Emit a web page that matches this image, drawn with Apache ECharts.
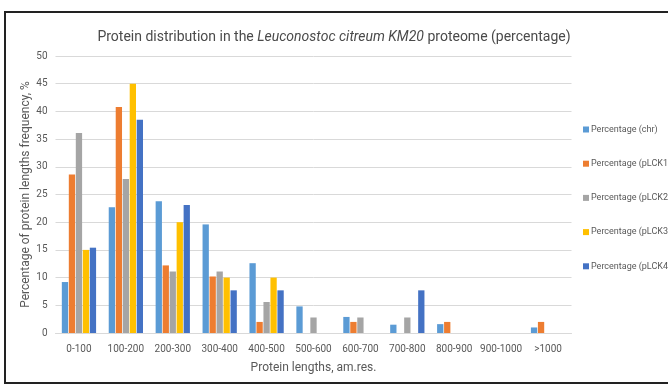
<!DOCTYPE html>
<html><head><meta charset="utf-8">
<script src="https://cdn.jsdelivr.net/npm/echarts@6/dist/echarts.min.js"></script>
<style>html,body{margin:0;padding:0;background:#fff}#c{width:668px;height:386px}</style>
</head><body><div id="c"></div>
<script>
const categories = ['0-100','100-200','200-300','300-400','400-500','500-600','600-700','700-800','800-900','900-1000','>1000'];
const seriesNames = ['Percentage (chr)','Percentage (pLCK1)','Percentage (pLCK2)','Percentage (pLCK3)','Percentage (pLCK4)'];
const chr   = [9.2, 22.7, 23.8, 19.6, 12.6, 4.8, 2.9, 1.5, 1.6, 0, 1.0];
const pLCK1 = [28.6, 40.8, 12.2, 10.2, 2.0, 0, 2.0, 0, 2.0, 0, 2.0];
const pLCK2 = [36.1, 27.8, 11.1, 11.1, 5.6, 2.8, 2.8, 2.8, 0, 0, 0];
const pLCK3 = [15, 45, 20, 10, 10, 0, 0, 0, 0, 0, 0];
const pLCK4 = [15.4, 38.5, 23.1, 7.7, 7.7, 0, 0, 7.7, 0, 0, 0];
const colors = ['#5B9BD5','#ED7D31','#A5A5A5','#FFC000','#4472C4'];
const allData = [chr, pLCK1, pLCK2, pLCK3, pLCK4];

const font = 'Roboto, "Noto Sans", sans-serif';
const chart = echarts.init(document.getElementById('c'), null, {renderer:'canvas'});
chart.setOption({
  animation:false,
  backgroundColor:'#fff',
  color: colors,
  title:{
    text:'{n|Protein distribution in the }{i|Leuconostoc citreum KM20}{n| proteome (percentage)}',
    left:'center', top:25,
    textStyle:{
      rich:{
        n:{fontFamily:font, fontSize:14, color:'#4a4a4a', fontWeight:'normal'},
        i:{fontFamily:font, fontSize:14, color:'#4a4a4a', fontStyle:'italic', fontWeight:'normal'}
      }
    }
  },
  graphic:[{type:'rect', shape:{x:5,y:12,width:700,height:371}, style:{fill:'none', stroke:'#222', lineWidth:2}, z:100}],
  legend:{
    orient:'vertical', left:578, top:120, itemGap:25.2, itemWidth:6, itemHeight:6, icon:'rect',
    textStyle:{fontFamily:font, fontSize:9, color:'#595959', padding:[0,0,0,-3]},
    data: seriesNames
  },
  grid:{left:55.5, right:96.5, top:56, bottom:53},
  xAxis:{
    type:'category', data:categories,
    axisLine:{lineStyle:{color:'#D9D9D9'}}, axisTick:{show:false},
    axisLabel:{fontFamily:font, fontSize:10, color:'#595959', margin:11, interval:0},
    name:'Protein lengths, am.res.', nameLocation:'middle', nameGap:29, nameMoveOverlap:false,
    nameTextStyle:{fontFamily:font, fontSize:12, color:'#595959'}
  },
  yAxis:{
    type:'value', min:0, max:50, interval:5,
    axisLine:{show:false}, axisTick:{show:false},
    splitLine:{lineStyle:{color:'#D9D9D9'}},
    axisLabel:{fontFamily:font, fontSize:10, color:'#595959', margin:8},
    name:'Percentage of protein lengths frequency, %', nameLocation:'middle', nameGap:24, nameMoveOverlap:false,
    nameTextStyle:{fontFamily:font, fontSize:12, color:'#595959'}
  },
  series: seriesNames.map((n,i)=>({
    name:n, type:'bar', data: allData[i], barWidth:6.3, barGap:'11%'
  }))
});
</script></body></html>
